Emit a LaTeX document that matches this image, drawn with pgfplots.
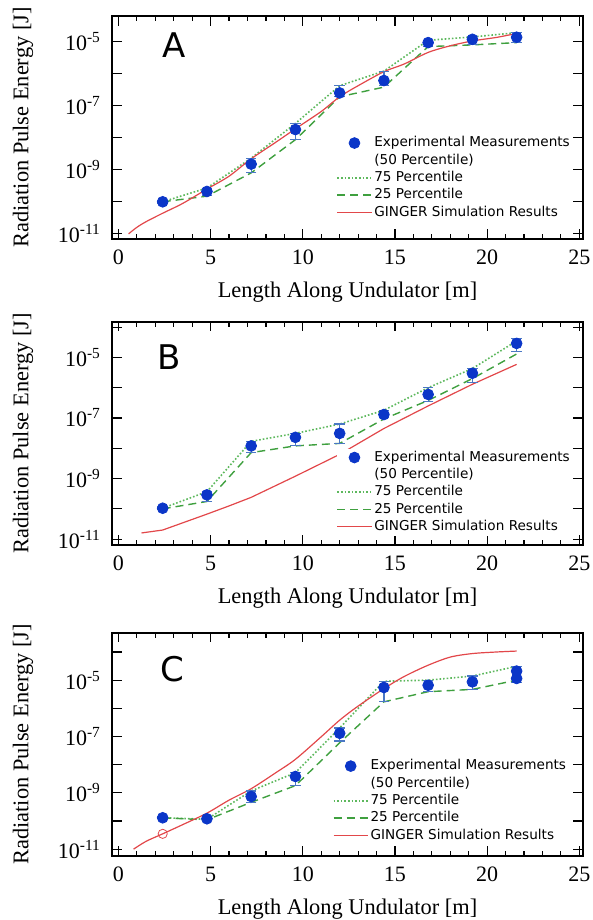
\documentclass[border=0pt]{standalone}
\usepackage{fontspec}
\setmainfont{Liberation Serif}
\newfontfamily\legfont{DejaVu Sans}
\usepackage{pgfplots}
\usepackage{pgfplotstable}
\pgfplotsset{compat=1.18}
\definecolor{expblue}{HTML}{0B36C8}
\definecolor{errblue}{HTML}{4A78C4}
\definecolor{pgreen}{HTML}{5DB85D}
\definecolor{dgreen}{HTML}{3FA03F}
\definecolor{gred}{HTML}{E2474A}

% measurements: median, error bar ends, 75th and 25th percentile
\pgfplotstableread{
x    med      lo       hi       p75      p25
2.4  1.0e-10  0.92e-10 1.08e-10 1.0e-10  1.0e-10
4.8  2.1e-10  1.55e-10 2.6e-10  2.7e-10  1.5e-10
7.2  1.5e-9   8.3e-10  2.3e-9   2.3e-9   8.0e-10
9.6  1.8e-8   8.7e-9   2.8e-8   2.8e-8   8.7e-9
12.0 2.5e-7   1.9e-7   4.2e-7   4.2e-7   1.9e-7
14.4 6.1e-7   4.2e-7   1.2e-6   1.2e-6   3.8e-7
16.8 9.3e-6   7.0e-6   1.1e-5   1.1e-5   7.0e-6
19.2 1.18e-5  7.9e-6   1.45e-5  1.4e-5   7.9e-6
21.6 1.37e-5  9.3e-6   1.95e-5  1.9e-5   9.3e-6
}\measA
\pgfplotstableread{
x    med      lo       hi       p75      p25
2.4  1.05e-10 0.95e-10 1.15e-10 1.05e-10 1.0e-10
4.8  2.9e-10  1.8e-10  3.7e-10  3.7e-10  1.75e-10
7.2  1.2e-8   7.2e-9   1.7e-8   1.7e-8   7.2e-9
9.6  2.3e-8   1.2e-8   3.1e-8   3.1e-8   1.2e-8
12.0 3.1e-8   1.45e-8  6.3e-8   6.3e-8   1.45e-8
14.4 1.3e-7   1.05e-7  1.8e-7   1.8e-7   9.3e-8
16.8 6.0e-7   3.6e-7   1.0e-6   1.0e-6   3.8e-7
19.2 3.0e-6   1.5e-6   4.3e-6   4.3e-6   2.0e-6
21.6 2.9e-5   1.6e-5   4.3e-5   3.5e-5   1.3e-5
}\measB
\pgfplotstableread{
x    med      lo       hi       p75      p25
2.4  1.3e-10  1.2e-10  1.4e-10  1.3e-10  1.3e-10
4.8  1.2e-10  1.1e-10  1.3e-10  1.15e-10 1.1e-10
7.2  7.4e-10  4.6e-10  1.17e-9  1.17e-9  4.6e-10
9.6  3.8e-9   1.8e-9   5.2e-9   5.2e-9   1.8e-9
12.0 1.3e-7   6.9e-8   2.0e-7   2.0e-7   6.0e-8
14.4 5.5e-6   1.8e-6   9.2e-6   9.2e-6   1.7e-6
16.8 6.6e-6   3.9e-6   1.0e-5   1.0e-5   3.9e-6
19.2 8.7e-6   4.7e-6   1.4e-5   1.4e-5   4.7e-6
21.6 2.1e-5   8.1e-6   3.1e-5   3.1e-5   1.0e-5
}\measC

% GINGER simulation
\pgfplotstableread{
x    y
0.55 1.0e-11
1.0  1.6e-11
1.5  2.4e-11
2.4  4.4e-11
3.5  9.0e-11
4.8  2.5e-10
6.0  6.3e-10
7.2  2.2e-9
8.5  7.0e-9
9.6  1.9e-8
11.0 6.6e-8
12.0 1.9e-7
13.0 4.2e-7
14.4 1.15e-6
15.5 2.0e-6
16.8 4.6e-6
18.0 7.4e-6
19.2 1.05e-5
20.5 1.35e-5
21.6 1.8e-5
}\simA
\pgfplotstableread{
x    y
1.25 1.6e-11
2.4  2.0e-11
4.8  6.7e-11
6.0  1.25e-10
7.2  2.4e-10
9.6  1.2e-9
12.0 6.3e-9
14.4 4.5e-8
16.8 2.5e-7
19.2 1.3e-6
21.6 5.9e-6
}\simB
\pgfplotstableread{
x    y
0.82 1.0e-11
1.5  1.9e-11
2.4  3.5e-11
3.5  7.5e-11
4.8  1.9e-10
6.0  5.5e-10
7.2  1.4e-9
8.5  5.0e-9
9.6  1.55e-8
11.0 9.8e-8
12.0 3.8e-7
13.0 1.2e-6
14.4 5.0e-6
15.5 1.35e-5
16.8 3.4e-5
18.0 6.6e-5
19.2 8.8e-5
20.5 1.0e-4
21.6 1.08e-4
}\simC

% common axis settings for the three panels
\pgfplotsset{
  scale only axis, width=235.5pt, height=111.5pt,
  xmin=-0.35, xmax=25.2,
  axis line style={line width=0.9pt},
  xtick={0,5,10,15,20,25},
  minor xtick={1,2,3,4,6,7,8,9,11,12,13,14,16,17,18,19,21,22,23,24},
  major tick length=4.8pt, minor tick length=2.6pt,
  tick style={black, line width=0.6pt},
  ytick={1e-11,1e-10,1e-9,1e-8,1e-7,1e-6,1e-5,1e-4},
  yticklabels={10\textsuperscript{-11},,10\textsuperscript{-9},,10\textsuperscript{-7},,10\textsuperscript{-5},},
  yminorticks=false,
  /pgf/number format/assume math mode=true,
  tick label style={font=\fontsize{11}{12}\selectfont},
  xticklabel style={yshift=-2pt},
  yticklabel style={xshift=-2pt},
  xlabel={Length Along Undulator [m]},
  ylabel={Radiation Pulse Energy [J]},
  label style={font=\fontsize{11.2}{13}\selectfont},
  xlabel style={at={(axis description cs:0.5,-0.238)}, anchor=center},
  ylabel style={at={(axis description cs:-0.189,0.5)}, anchor=center},
  legend cell align=left,
  legend style={draw=none, fill=white, anchor=north west, inner sep=0pt,
    font=\legfont\fontsize{6.8}{8}\selectfont, nodes={inner sep=1pt}},
  meas/.style={only marks, mark=*, mark size=2.7pt, color=expblue,
    error bars/y dir=both, error bars/y explicit,
    error bars/error bar style={color=errblue, line width=0.6pt},
    error bars/error mark options={color=errblue, mark size=2.6pt, line width=0.6pt, rotate=90}},
  p75/.style={pgreen, densely dotted, line width=0.8pt},
  p25/.style={dgreen, dash pattern=on 4pt off 2.5pt, line width=0.7pt},
  ginger/.style={gred, line width=0.6pt},
}
\newcommand{\panelleg}{%
  \addlegendimage{only marks, mark=*, mark size=2.7pt, expblue}
  \addlegendentry{Experimental Measurements}
  \addlegendimage{empty legend}
  \addlegendentry{(50 Percentile)}
  \addlegendimage{p75}
  \addlegendentry{75 Percentile}
  \addlegendimage{p25}
  \addlegendentry{25 Percentile}
  \addlegendimage{ginger}
  \addlegendentry{GINGER Simulation Results}}

\begin{document}
\begin{tikzpicture}
\path[use as bounding box] (-56pt,8pt) rectangle (240.5pt,-452pt);

% panel A
\begin{semilogyaxis}[at={(0pt,0pt)}, anchor=north west,
  ymin=6.9e-12, ymax=6.3e-5, legend style={at={(0.476,0.471)}}]
\addplot[p75, forget plot] table[x=x, y=p75] {\measA};
\addplot[p25, forget plot] table[x=x, y=p25] {\measA};
\addplot[ginger, smooth, forget plot] table[x=x, y=y] {\simA};
\addplot[forget plot, meas] table[x=x, y=med,
  y error plus expr=\thisrow{hi}-\thisrow{med},
  y error minus expr=\thisrow{med}-\thisrow{lo}] {\measA};
\panelleg
\node[font=\legfont\fontsize{17}{17}\selectfont] at (axis cs:3,7.8e-6) {A};
\end{semilogyaxis}

% panel B
\begin{semilogyaxis}[at={(0pt,-152.9pt)}, anchor=north west,
  ymin=6.5e-12, ymax=1.5e-4, legend style={at={(0.476,0.432)}}]
\addplot[p75, forget plot] table[x=x, y=p75] {\measB};
\addplot[p25, forget plot] table[x=x, y=p25] {\measB};
\addplot[ginger, forget plot] table[x=x, y=y] {\simB};
\addplot[forget plot, meas] table[x=x, y=med,
  y error plus expr=\thisrow{hi}-\thisrow{med},
  y error minus expr=\thisrow{med}-\thisrow{lo}] {\measB};
\panelleg
\node[font=\legfont\fontsize{17}{17}\selectfont] at (axis cs:2.75,1e-5) {B};
\end{semilogyaxis}

% panel C
\begin{semilogyaxis}[at={(0pt,-308.4pt)}, anchor=north west,
  ymin=5.8e-12, ymax=4.8e-4, legend style={at={(0.468,0.443)}}]
\addplot[p75, forget plot] table[x=x, y=p75] {\measC};
\addplot[p25, forget plot] table[x=x, y=p25] {\measC};
\addplot[ginger, smooth, forget plot] table[x=x, y=y] {\simC};
\addplot[only marks, mark=o, mark size=2.3pt, gred, forget plot] coordinates {(2.4,3.5e-11)};
\addplot[forget plot, meas] table[x=x, y=med,
  y error plus expr=\thisrow{hi}-\thisrow{med},
  y error minus expr=\thisrow{med}-\thisrow{lo}] {\measC};
\addplot[only marks, mark=*, mark size=2.7pt, expblue, forget plot] coordinates {(21.6,1.15e-5)};
\panelleg
\node[font=\legfont\fontsize{17}{17}\selectfont] at (axis cs:2.9,2.5e-5) {C};
\end{semilogyaxis}
\end{tikzpicture}
\end{document}
